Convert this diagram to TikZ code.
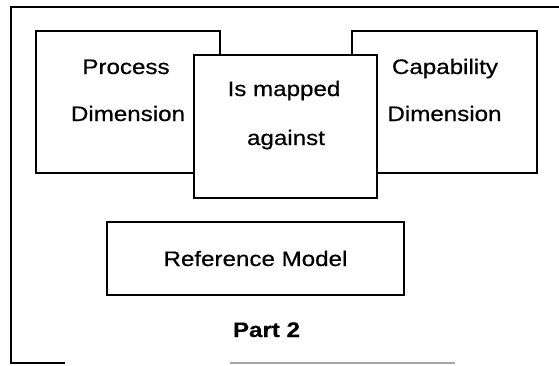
\documentclass[tikz,border=0pt]{standalone}
\usepackage{fontspec}
\setmainfont{Liberation Sans}[FakeStretch=1.15,FakeBold=0.5]
\begin{document}
\begin{tikzpicture}[x=1pt,y=-1pt,
  box/.style={draw=black,line width=1.6pt,fill=white,inner sep=0pt},
  txt/.style={font=\fontsize{21}{25}\selectfont,inner sep=0pt,anchor=base},
  btxt/.style={font=\fontsize{21}{25}\selectfont\bfseries,inner sep=0pt,anchor=base}]
\useasboundingbox (0,0) rectangle (559,365);
% outer frame
\draw[line width=1.6pt] (570,7) -- (11,7) -- (11,363) -- (65,363);
\draw[line width=1.2pt,black!35] (230,363) -- (455,363);
% boxes
\node[box,minimum width=184pt,minimum height=142pt] (proc) at (128,102) {};
\node[box,minimum width=185pt,minimum height=142pt] (cap) at (444.5,102) {};
\node[box,minimum width=183pt,minimum height=143pt] (map) at (285.5,126.5) {};
\node[box,minimum width=297pt,minimum height=73pt] (ref) at (255.5,258.5) {};
% texts
\node[txt] (proc1) at (126,74) {Process};
\node[txt] (proc2) at (128,121) {Dimension};
\node[txt] (cap1) at (445,74) {Capability};
\node[txt] (cap2) at (444.5,121) {Dimension};
\node[txt] (map1) at (284,96) {Is mapped};
\node[txt] (map2) at (286,145) {against};
\node[txt] (ref1) at (255.5,266) {Reference Model};
\node[btxt] (part) at (266.5,337) {Part 2};
\end{tikzpicture}
\end{document}
